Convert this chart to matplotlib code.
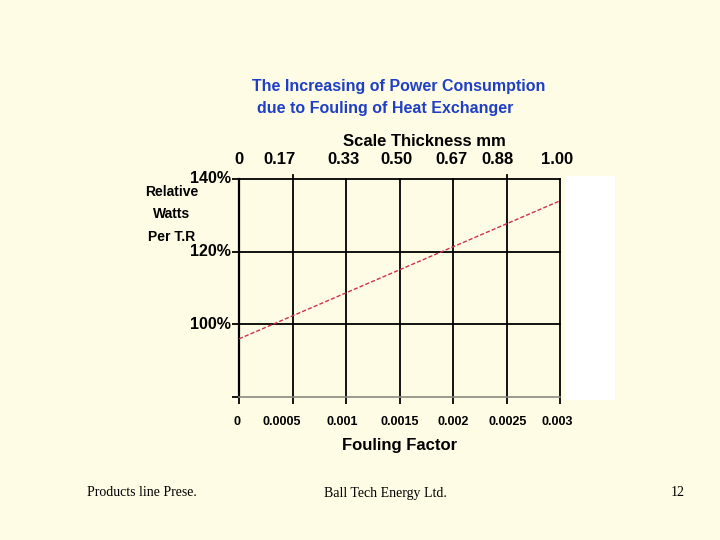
import matplotlib.pyplot as plt
from matplotlib.patches import Rectangle
from matplotlib.transforms import offset_copy

# data
fouling = [0, 0.003]
watts = [96, 134]

fouling_ticks = [0, 0.0005, 0.001, 0.0015, 0.002, 0.0025, 0.003]
fouling_labels = ['0', '0.0005', '0.001', '0.0015', '0.002', '0.0025', '0.003']
fouling_shift = [-2, -11, -4, 0, 0, 1, -3]  # px, as drawn in the slide
thickness_labels = ['0', '0.17', '0.33', '0.50', '0.67', '0.88', '1.00']
thickness_shift = [0, -13, -2, -3, -2, -9, -3]
y_ticks = [80, 100, 120, 140]
y_labels = ['', '100%', '120%', '140%']

bg = '#fefce4'
blue = '#1f3fc4'
sans = 'Liberation Sans'
serif = 'Liberation Serif'


def zobraz_graf():
    fig = plt.figure(figsize=(7.2, 5.4), dpi=100, facecolor=bg)
    ax = fig.add_axes([239 / 720, 1 - 397 / 540, 321 / 720, 218 / 540])
    ax.set_facecolor(bg)

    ax.set_xlim(0, 0.003)
    ax.set_ylim(80, 140)

    # grid
    for x in fouling_ticks[1:]:
        ax.axvline(x, color='black', lw=1.3, zorder=1, clip_on=False)
    for y in y_ticks[1:]:
        ax.axhline(y, color='black', lw=1.3, zorder=1, clip_on=False)

    ax.plot(fouling, watts, color='#d0304a', lw=1.0, ls=(0, (3, 1.5)), zorder=3)

    for side in ['top', 'right']:
        ax.spines[side].set_visible(False)
    ax.spines['left'].set_color('black')
    ax.spines['left'].set_linewidth(1.6)
    ax.spines['bottom'].set_color('#8a8a80')
    ax.spines['bottom'].set_linewidth(1.2)

    ax.set_xticks(fouling_ticks)
    ax.set_xticklabels([])
    ax.set_yticks(y_ticks)
    ax.set_yticklabels(y_labels, fontsize=11.5, fontweight='bold', family=sans)
    ax.tick_params(axis='x', length=5, width=1.3)
    ax.tick_params(axis='y', length=5, width=1.3, pad=1)
    for lbl in ax.get_yticklabels():
        lbl.set_va('center')

    # bottom labels (fouling factor)
    for x, t, dx in zip(fouling_ticks, fouling_labels, fouling_shift):
        tr = offset_copy(ax.get_xaxis_transform(), fig=fig, x=dx, y=-25, units='dots')
        ax.text(x, 0, t, transform=tr, ha='center', va='center',
                fontsize=9, fontweight='bold', family=sans)
    ax.set_xlabel('Fouling Factor', fontsize=12, fontweight='bold', family=sans, labelpad=21)

    # top scale (thickness)
    for x, t, dx in zip(fouling_ticks, thickness_labels, thickness_shift):
        tr = offset_copy(ax.get_xaxis_transform(), fig=fig, x=dx, y=12, units='dots')
        ax.text(x, 1, t, transform=tr, ha='center', va='bottom',
                fontsize=12, fontweight='bold', family=sans)
    for x in [0.0005, 0.0025]:
        ax.plot([x, x], [1, 1.02], transform=ax.get_xaxis_transform(),
                color='black', lw=1.3, clip_on=False)

    fig.text(424 / 720, 1 - 141 / 540, 'Scale Thickness mm', ha='center', va='center',
             fontsize=12, fontweight='bold', family=sans)

    # y label
    for txt, yy in [('Relative', 192), ('Watts', 214), ('Per T.R', 237)]:
        fig.text(172 / 720, 1 - yy / 540, txt, ha='center', va='center',
                 fontsize=10, fontweight='bold', family=sans)

    # title
    fig.text(252 / 720, 1 - 87 / 540, 'The Increasing of Power Consumption',
             ha='left', va='center', fontsize=11.5, fontweight='bold', family=sans, color=blue)
    fig.text(257 / 720, 1 - 109 / 540, 'due to Fouling of Heat Exchanger',
             ha='left', va='center', fontsize=11.5, fontweight='bold', family=sans, color=blue)

    # white block right of the chart, as in the slide
    fig.patches.append(Rectangle((565 / 720, 1 - 400 / 540), 50 / 720, 224 / 540,
                                 transform=fig.transFigure, facecolor='white',
                                 edgecolor='none', zorder=0))

    # footer
    fig.text(87 / 720, 1 - 493 / 540, 'Products line Prese.', ha='left', va='center',
             fontsize=10, family=serif)
    fig.text(385 / 720, 1 - 493 / 540, 'Ball Tech Energy Ltd.', ha='center', va='center',
             fontsize=10, family=serif)
    fig.text(678 / 720, 1 - 493 / 540, '12', ha='center', va='center',
             fontsize=10, family=serif)

    fig.savefig('out.png', dpi=100, facecolor=bg)


if __name__ == "__main__":
    zobraz_graf()
